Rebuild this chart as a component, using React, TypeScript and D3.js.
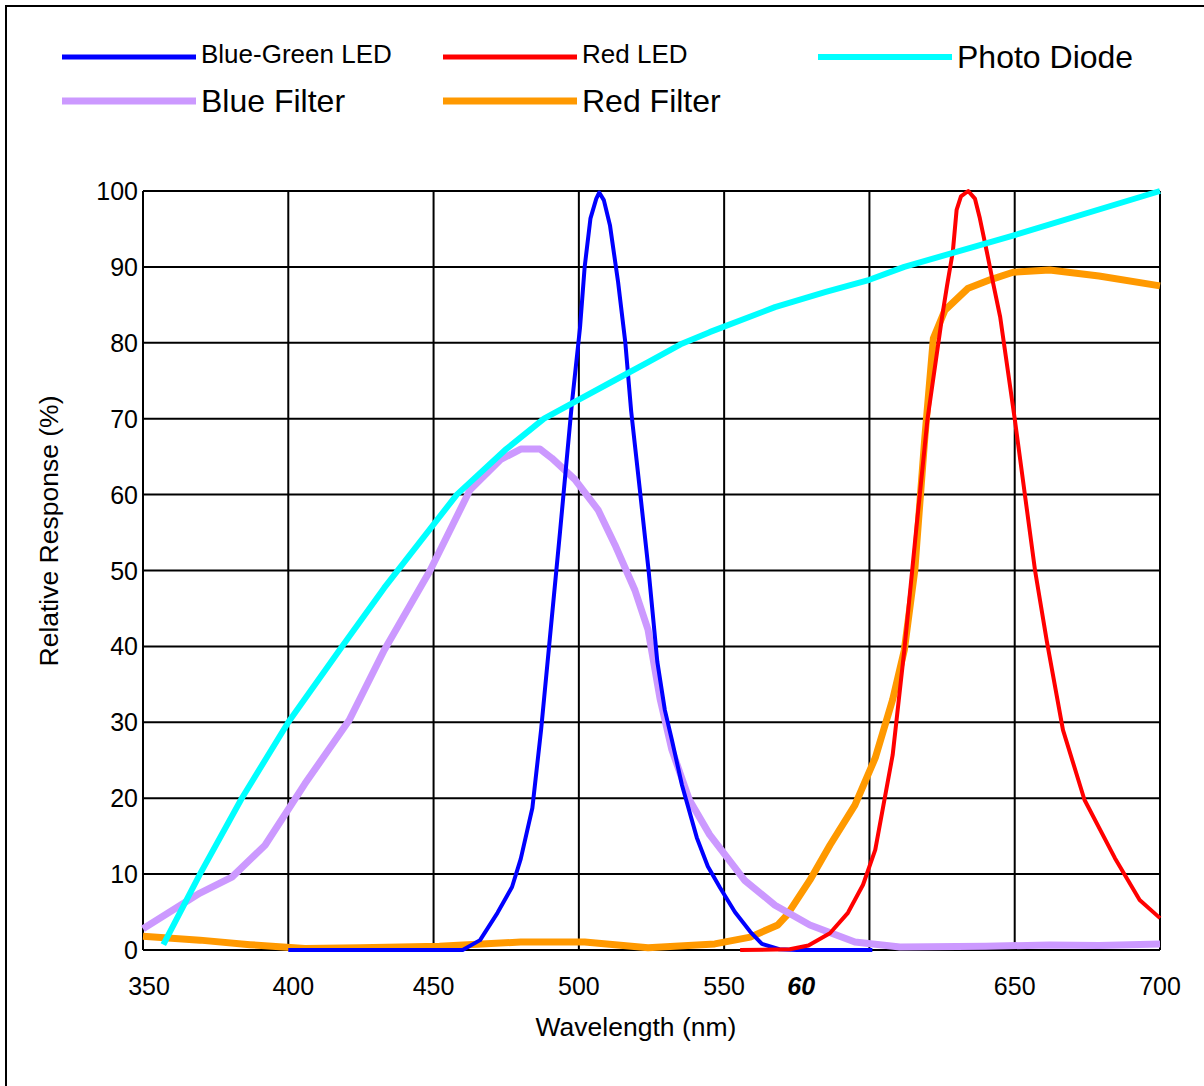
import React from 'react'
import * as d3 from 'd3'

// [wavelength nm, relative response %]
const blueGreenLed: [number, number][] = [
  [400, 0], [460, 0], [466, 1.3], [472, 4.9], [477, 8.3], [480, 12], [484, 18.7], [487, 29],
  [490, 41], [493.5, 55], [497.6, 72], [500.4, 82], [502, 90], [504, 96.4], [506, 99],
  [507, 99.8], [508.6, 98.8], [510.7, 95.5], [513.5, 88], [516, 80], [518, 71], [521, 60.6],
  [524, 50], [527, 38], [529.6, 31.6], [532, 27.7], [535.5, 21.7], [540.6, 14.8], [544.4, 11],
  [548.6, 8.2], [553.7, 5], [559, 2.4], [563, 0.8], [569, 0.1], [575, 0], [601, 0]
]
const redLed: [number, number][] = [
  [555.5, 0], [572.6, 0.1], [579, 0.6], [586.4, 2.2], [592.6, 4.9], [597.8, 8.6], [602, 13.2],
  [608, 25.7], [612, 39.5], [616, 55], [620, 70], [625, 83.4], [626.7, 87.5], [628.7, 92],
  [630, 97.5], [631.5, 99.3], [634, 100], [636.3, 99], [638, 96.4], [640.4, 92], [642.5, 88],
  [645, 83.4], [650, 70], [657, 50], [661, 40.8], [666.6, 29], [674, 19.8], [684.5, 12.1],
  [693, 6.6], [700, 4.2]
]
const photoDiode: [number, number][] = [
  [357, 0.7], [369.6, 10], [384, 20], [400, 30], [418.5, 40], [433, 47.7], [458, 60],
  [475, 66], [488, 70], [500, 72.5], [512, 75], [524, 77.5], [535, 79.8], [545, 81.4],
  [567.5, 84.7], [585, 86.7], [600, 88.3], [612, 90], [650, 94.2], [700, 100]
]
const blueFilter: [number, number][] = [
  [350, 2.8], [369.6, 7.5], [380.6, 9.6], [392, 13.8], [405.7, 21.9], [421, 30.3], [433, 39.5],
  [448.8, 50], [462.5, 60.6], [473, 64.6], [480, 66], [486.6, 66], [490.7, 64.8],
  [498.6, 62], [506.6, 58], [512.4, 53.4], [519.3, 47.4], [523.8, 42.2], [528, 33],
  [532, 26.4], [538, 19.8], [545, 15.2], [557, 9.2], [567.5, 5.9], [579.5, 3.3],
  [595, 1.05], [610.5, 0.4], [640, 0.5], [662, 0.66], [679, 0.6], [700, 0.8]
]
const redFilter: [number, number][] = [
  [350, 1.8], [369.6, 1.3], [386.8, 0.7], [405.7, 0.2], [424.7, 0.3], [452, 0.5], [480, 1.05],
  [502, 1.05], [523.8, 0.3], [546.8, 0.8], [559, 1.7], [568.5, 3.3], [571.6, 4.6],
  [579.5, 9.2], [586.4, 13.8], [595, 19.1], [602, 25.3], [608, 33], [612, 39.5],
  [615.6, 50], [619, 67.2], [622, 80.6], [626, 84.3], [634, 87.2], [641.5, 88.3],
  [649.4, 89.3], [662, 89.6], [679, 88.8], [700, 87.5]
]

const xTicks = [350, 400, 450, 500, 550, 650, 700]
const xGrid = [350, 400, 450, 500, 550, 600, 650, 700]
const yTicks = [0, 10, 20, 30, 40, 50, 60, 70, 80, 90, 100]

const series = [
  { name: 'Red Filter', data: redFilter, color: '#ff9900', width: 7 },
  { name: 'Blue Filter', data: blueFilter, color: '#cc99ff', width: 7 },
  { name: 'Blue-Green LED', data: blueGreenLed, color: '#0000ff', width: 4 },
  { name: 'Red LED', data: redLed, color: '#ff0000', width: 4 },
  { name: 'Photo Diode', data: photoDiode, color: '#00ffff', width: 6 }
]

const legend = [
  { name: 'Blue-Green LED', color: '#0000ff', w: 5, col: 0, row: 0, size: 26 },
  { name: 'Red LED', color: '#ff0000', w: 5, col: 1, row: 0, size: 26 },
  { name: 'Photo Diode', color: '#00ffff', w: 6, col: 2, row: 0, size: 32 },
  { name: 'Blue Filter', color: '#cc99ff', w: 7, col: 0, row: 1, size: 32 },
  { name: 'Red Filter', color: '#ff9900', w: 7, col: 1, row: 1, size: 32 }
]
const legendX = [62, 443, 818]
const legendY = [57, 101]

export default function App() {
  const W = 1204, H = 1086
  const x = d3.scaleLinear().domain([350, 700]).range([143, 1160])
  const y = d3.scaleLinear().domain([0, 100]).range([950, 191])
  const line = d3.line<[number, number]>().x(d => x(d[0])).y(d => y(d[1]))
  const font = '"Liberation Sans", Arial, sans-serif'

  return (
    <svg width={W} height={H} style={{ position: 'absolute', left: 0, top: 0, background: '#fff' }}
      fontFamily={font}>
      <rect x={6} y={6} width={W + 20} height={H + 20} fill="#fff" stroke="#000" strokeWidth={2} />

      {/* legend */}
      {legend.map(l => (
        <g key={l.name}>
          <line x1={legendX[l.col]} x2={legendX[l.col] + 134} y1={legendY[l.row]} y2={legendY[l.row]}
            stroke={l.color} strokeWidth={l.w} />
          <text x={legendX[l.col] + 139} y={legendY[l.row] + (l.size > 28 ? 11 : 6)} fontSize={l.size}>{l.name}</text>
        </g>
      ))}

      {/* grid */}
      {yTicks.map(t => (
        <line key={'h' + t} x1={x(350)} x2={x(700)} y1={y(t)} y2={y(t)} stroke="#000" strokeWidth={2} />
      ))}
      {xGrid.map(t => (
        <line key={'v' + t} x1={x(t)} x2={x(t)} y1={y(0)} y2={y(100)} stroke="#000" strokeWidth={2} />
      ))}

      {/* series */}
      {series.map(s => (
        <path key={s.name} d={line(s.data) || ''} fill="none" stroke={s.color}
          strokeWidth={s.width} strokeLinejoin="round" />
      ))}

      {/* y ticks */}
      {yTicks.map(t => (
        <text key={'yl' + t} x={x(350) - 5} y={y(t)} dy="0.36em" textAnchor="end" fontSize={25}>{t}</text>
      ))}
      {/* x ticks */}
      {xTicks.map(t => (
        <text key={'xl' + t} x={x(t) + (t === 350 ? 6 : t === 400 ? 5 : 0)} y={995} textAnchor="middle" fontSize={25}>{t}</text>
      ))}
      <text x={x(576.5)} y={995} textAnchor="middle" fontSize={25} fontWeight="bold" fontStyle="italic">60</text>

      <text x={636} y={1036} textAnchor="middle" fontSize={26.5}>Wavelength (nm)</text>
      <text transform={`translate(58,531) rotate(-90)`} textAnchor="middle" fontSize={26.5}>Relative Response (%)</text>
    </svg>
  )
}
